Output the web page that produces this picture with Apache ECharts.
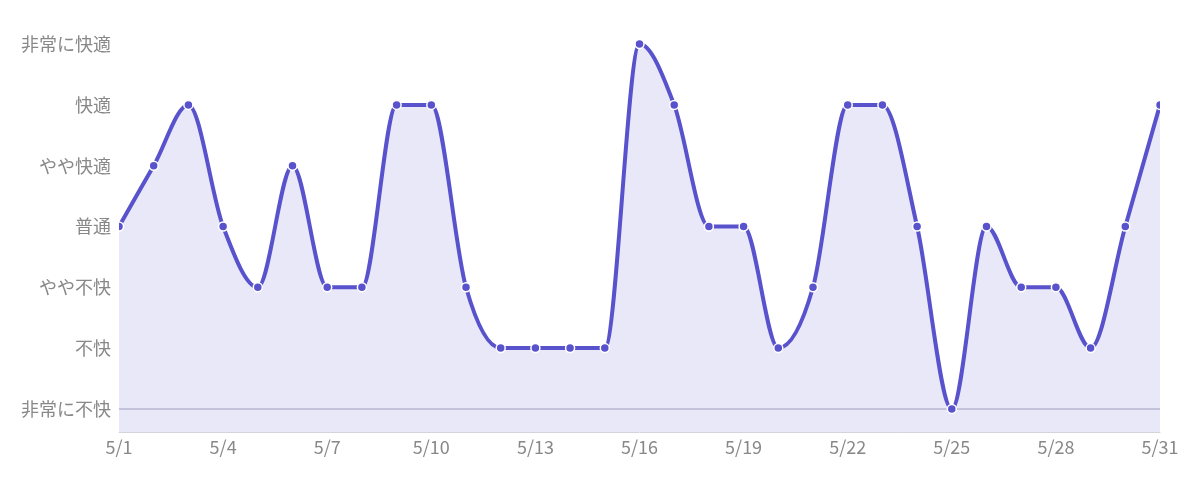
<!DOCTYPE html>
<html>
<head>
<meta charset="utf-8">
<script src="https://cdn.jsdelivr.net/npm/echarts@6/dist/echarts.min.js"></script>
<style>
html,body{margin:0;padding:0;background:#fff;}
#chart{width:1200px;height:480px;}
</style>
</head>
<body>
<div id="chart"></div>
<script>
const dates = ['5/1','5/2','5/3','5/4','5/5','5/6','5/7','5/8','5/9','5/10','5/11','5/12','5/13','5/14','5/15','5/16','5/17','5/18','5/19','5/20','5/21','5/22','5/23','5/24','5/25','5/26','5/27','5/28','5/29','5/30','5/31'];
const levels = ['非常に不快','不快','やや不快','普通','やや快適','快適','非常に快適'];
const comfort = [3,4,5,3,2,4,2,2,5,5,2,1,1,1,1,6,5,3,3,1,2,5,5,3,0,3,2,2,1,3,5];

const LINE = '#5852cc';
const AREA = '#e9e8f8';

// monotone-x cubic path through screen points
function monotonePath(pts) {
  const n = pts.length;
  const sign = v => (v < 0 ? -1 : 1);
  const t = new Array(n).fill(0);
  for (let i = 1; i < n - 1; i++) {
    const h0 = pts[i][0] - pts[i-1][0], h1 = pts[i+1][0] - pts[i][0];
    const s0 = (pts[i][1] - pts[i-1][1]) / h0, s1 = (pts[i+1][1] - pts[i][1]) / h1;
    const p = (s0 * h1 + s1 * h0) / (h0 + h1);
    t[i] = (sign(s0) + sign(s1)) * Math.min(Math.abs(s0), Math.abs(s1), 0.5 * Math.abs(p)) || 0;
  }
  if (n > 2) {
    const h = pts[1][0] - pts[0][0];
    t[0] = (3 * (pts[1][1] - pts[0][1]) / h - t[1]) / 2;
    const hl = pts[n-1][0] - pts[n-2][0];
    t[n-1] = (3 * (pts[n-1][1] - pts[n-2][1]) / hl - t[n-2]) / 2;
  }
  let d = 'M' + pts[0][0] + ' ' + pts[0][1];
  for (let i = 0; i < n - 1; i++) {
    const dx = (pts[i+1][0] - pts[i][0]) / 3;
    d += ' C' + (pts[i][0] + dx) + ' ' + (pts[i][1] + dx * t[i]) + ' ' +
         (pts[i+1][0] - dx) + ' ' + (pts[i+1][1] - dx * t[i+1]) + ' ' +
         pts[i+1][0] + ' ' + pts[i+1][1];
  }
  return d;
}

const chart = echarts.init(document.getElementById('chart'));
const font = '"Noto Sans CJK JP", "Noto Sans", sans-serif';
chart.setOption({
  animation: false,
  grid: {left: 119, right: 40, top: 21, bottom: 48},
  xAxis: {
    type: 'category',
    data: dates,
    boundaryGap: false,
    axisLine: {onZero: false, lineStyle: {color: '#d4d4dc', width: 1}},
    axisTick: {show: false},
    axisLabel: {interval: 2, color: '#888', fontSize: 18, fontFamily: font, margin: 6},
    splitLine: {show: false}
  },
  yAxis: {
    type: 'value',
    min: -0.38,
    max: 6.38,
    axisLine: {show: false},
    axisTick: {show: false},
    splitLine: {show: false},
    axisLabel: {
      customValues: [0,1,2,3,4,5,6],
      color: '#888', fontSize: 18, fontFamily: font, margin: 8,
      formatter: v => levels[Math.round(v)] || ''
    }
  },
  series: [{
    type: 'custom',
    clip: true,
    data: [[0, comfort[0]]],
    renderItem: function (params, api) {
      const cs = params.coordSys;
      const pts = comfort.map((v, i) => api.coord([i, v]));
      const bottom = cs.y + cs.height;
      const curve = monotonePath(pts);
      const areaD = curve + ' L' + pts[pts.length-1][0] + ' ' + bottom + ' L' + pts[0][0] + ' ' + bottom + ' Z';
      const zeroY = api.coord([0, 0])[1];
      const children = [
        {type: 'path', shape: {pathData: areaD}, style: {fill: AREA, stroke: null}},
        {type: 'line', shape: {x1: cs.x, y1: zeroY, x2: cs.x + cs.width, y2: zeroY},
         style: {stroke: '#b9b6d2', lineWidth: 1.5}},
        {type: 'path', shape: {pathData: curve}, style: {fill: null, stroke: LINE, lineWidth: 4, lineJoin: 'round'}}
      ];
      pts.forEach(p => {
        children.push({type: 'circle', shape: {cx: p[0], cy: p[1], r: 4.5},
          style: {fill: LINE, stroke: '#fff', lineWidth: 1.5}});
      });
      return {type: 'group', children: children};
    }
  }]
});
</script>
</body>
</html>
